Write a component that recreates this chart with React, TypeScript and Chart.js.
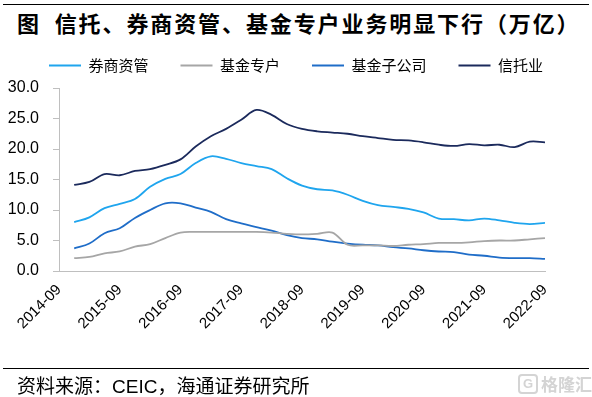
import React, { useEffect, useRef } from 'react';
import { Chart, registerables } from 'chart.js';

Chart.register(...registerables);

// Quarter-end dates of the series
const quarters = [
  '2014-12', '2015-03', '2015-06', '2015-09', '2015-12', '2016-03', '2016-06', '2016-09',
  '2016-12', '2017-03', '2017-06', '2017-09', '2017-12', '2018-03', '2018-06', '2018-09',
  '2018-12', '2019-03', '2019-06', '2019-09', '2019-12', '2020-03', '2020-06', '2020-09',
  '2020-12', '2021-03', '2021-06', '2021-09', '2021-12', '2022-03', '2022-06', '2022-09',
];

// X-axis tick labels
const axisLabels = [
  '2014-09', '2015-09', '2016-09', '2017-09', '2018-09', '2019-09', '2020-09', '2021-09', '2022-09',
];

// Y-axis ticks (万亿)
const yTicks = [0, 5, 10, 15, 20, 25, 30];

// Series (万亿元)
const brokerAM = [
  8.0, 8.8, 10.3, 11.0, 11.8, 13.8, 15.1, 15.9, 17.7, 18.8, 18.4, 17.7, 17.2, 16.7, 15.2, 14.0,
  13.4, 13.2, 12.5, 11.5, 10.8, 10.5, 10.2, 9.6, 8.6, 8.5, 8.3, 8.6, 8.3, 7.9, 7.7, 7.9,
];
const fundSpecial = [
  2.1, 2.3, 2.9, 3.2, 4.0, 4.4, 5.4, 6.3, 6.4, 6.4, 6.4, 6.4, 6.4, 6.3, 6.1, 6.0,
  6.1, 6.3, 4.3, 4.2, 4.2, 4.1, 4.3, 4.4, 4.6, 4.6, 4.7, 4.9, 5.0, 5.0, 5.2, 5.4,
];
const fundSub = [
  3.7, 4.5, 6.2, 7.0, 8.7, 10.0, 11.1, 11.1, 10.4, 9.7, 8.5, 7.8, 7.2, 6.6, 5.9, 5.4,
  5.2, 4.8, 4.5, 4.3, 4.2, 3.9, 3.7, 3.4, 3.2, 3.1, 2.7, 2.5, 2.2, 2.1, 2.1, 2.0,
];
const trust = [
  14.1, 14.6, 15.9, 15.7, 16.4, 16.7, 17.4, 18.3, 20.4, 22.1, 23.3, 24.8, 26.4, 25.6, 24.1, 23.3,
  22.9, 22.7, 22.5, 22.1, 21.8, 21.5, 21.4, 21.1, 20.7, 20.5, 20.8, 20.6, 20.7, 20.3, 21.2, 21.1,
];

const seriesNames = ['券商资管', '基金专户', '基金子公司', '信托业'];
const seriesColors = ['#1FA5EE', '#A6A6A6', '#1F6DC8', '#1B2A5C'];

// quarter index measured from 2014-09
const toQ = (s: string) => {
  const [y, m] = s.split('-').map(Number);
  return ((y - 2014) * 12 + (m - 9)) / 3;
};

const CJK = '"Noto Sans CJK SC", "Noto Sans", sans-serif';
const LATIN = '"Liberation Sans", Arial, sans-serif';

export default function App() {
  const ref = useRef<HTMLCanvasElement | null>(null);

  useEffect(() => {
    if (!ref.current) return;
    const all = [brokerAM, fundSpecial, fundSub, trust];
    const legendSpacer = {
      id: 'legendSpacer',
      beforeInit(chart: any) {
        const legend = chart.legend;
        if (!legend) return;
        const orig = legend.fit;
        legend.fit = function () {
          orig.call(this);
          this.height += 5;
        };
      },
    };
    const chart = new Chart(ref.current, {
      type: 'line',
      data: {
        datasets: all.map((arr, k) => ({
          label: seriesNames[k],
          data: quarters.map((q, i) => ({ x: toQ(q), y: arr[i] })),
          borderColor: seriesColors[k],
          backgroundColor: seriesColors[k],
          borderWidth: 1.8,
          pointRadius: 0,
          tension: 0.35,
          fill: false,
        })),
      },
      plugins: [legendSpacer],
      options: {
        animation: false,
        responsive: false,
        devicePixelRatio: 1,
        layout: { padding: { top: 26, left: 0, right: 0, bottom: 0 } },
        plugins: {
          tooltip: { enabled: false },
          legend: {
            display: true,
            position: 'top',
            labels: {
              boxWidth: 32,
              boxHeight: 2,
              padding: 32,
              color: '#000',
              font: { family: CJK, size: 15 },
              generateLabels(chart: any) {
                const items = (Chart.defaults.plugins.legend.labels as any).generateLabels(chart);
                items.forEach((it: any) => { it.lineWidth = 0; });
                return items;
              },
            },
          },
        },
        scales: {
          x: {
            type: 'linear',
            min: 0,
            max: 32,
            afterBuildTicks: (axis: any) => {
              axis.ticks = axisLabels.map((l) => ({ value: toQ(l) }));
            },
            afterFit: (s: any) => { s.height = 126; },
            ticks: {
              autoSkip: false,
              minRotation: 45,
              maxRotation: 45,
              padding: 10,
              color: '#000',
              font: { family: LATIN, size: 15 },
              callback: (_v: any, i: number) => axisLabels[i],
            },
            grid: { display: false, drawTicks: false },
            border: { display: true, color: '#BFBFBF', width: 1 },
          },
          y: {
            min: 0,
            max: 30,
            afterBuildTicks: (axis: any) => {
              axis.ticks = yTicks.map((v) => ({ value: v }));
            },
            afterFit: (s: any) => { s.width = 59; },
            ticks: {
              padding: 14,
              color: '#000',
              font: { family: LATIN, size: 16 },
              callback: (v: any) => Number(v).toFixed(1),
            },
            grid: { display: true, drawOnChartArea: false, drawTicks: true, tickLength: 6, color: '#BFBFBF' },
            border: { display: true, color: '#BFBFBF', width: 1 },
          },
          yRight: {
            position: 'right',
            display: true,
            afterFit: (s: any) => { s.width = 47; },
            ticks: { display: false },
            grid: { display: false, drawTicks: false },
            border: { display: false },
          },
        },
      },
    } as any);
    return () => chart.destroy();
  }, []);

  return (
    <div style={{ position: 'absolute', left: 0, top: 0, width: 592, height: 397, background: '#fff', overflow: 'hidden' }}>
      <div style={{ position: 'absolute', left: 3, top: 4, width: 586, height: 1, background: '#000' }} />
      <div style={{ position: 'absolute', left: 17, top: 10, fontFamily: CJK, fontSize: 22, lineHeight: '24px', fontWeight: 'bold', letterSpacing: 1.9, color: '#000', whiteSpace: 'nowrap' }}>
        图&nbsp;&nbsp;信托、券商资管、基金专户业务明显下行（万亿）
      </div>
      <canvas ref={ref} width={592} height={397} style={{ position: 'absolute', left: 0, top: 0, width: 592, height: 397 }} />
      <div style={{ position: 'absolute', left: 3, top: 368, width: 586, height: 1, background: '#000' }} />
      <div style={{ position: 'absolute', left: 17, top: 374, fontFamily: CJK, fontSize: 19, lineHeight: '22px', color: '#000', whiteSpace: 'nowrap' }}>
        资料来源：<span style={{ fontFamily: LATIN }}>CEIC</span>，海通证券研究所
      </div>
      <div style={{ position: 'absolute', left: 518, top: 374, display: 'flex', alignItems: 'center', gap: 3, color: '#D4D4D4', fontFamily: CJK, fontWeight: 'bold', fontSize: 17, lineHeight: '20px' }}>
        <span style={{ border: '2px solid #D4D4D4', borderRadius: 4, width: 16, height: 16, lineHeight: '16px', fontSize: 13, textAlign: 'center', fontFamily: LATIN }}>G</span>
        <span>格隆汇</span>
      </div>
    </div>
  );
}
